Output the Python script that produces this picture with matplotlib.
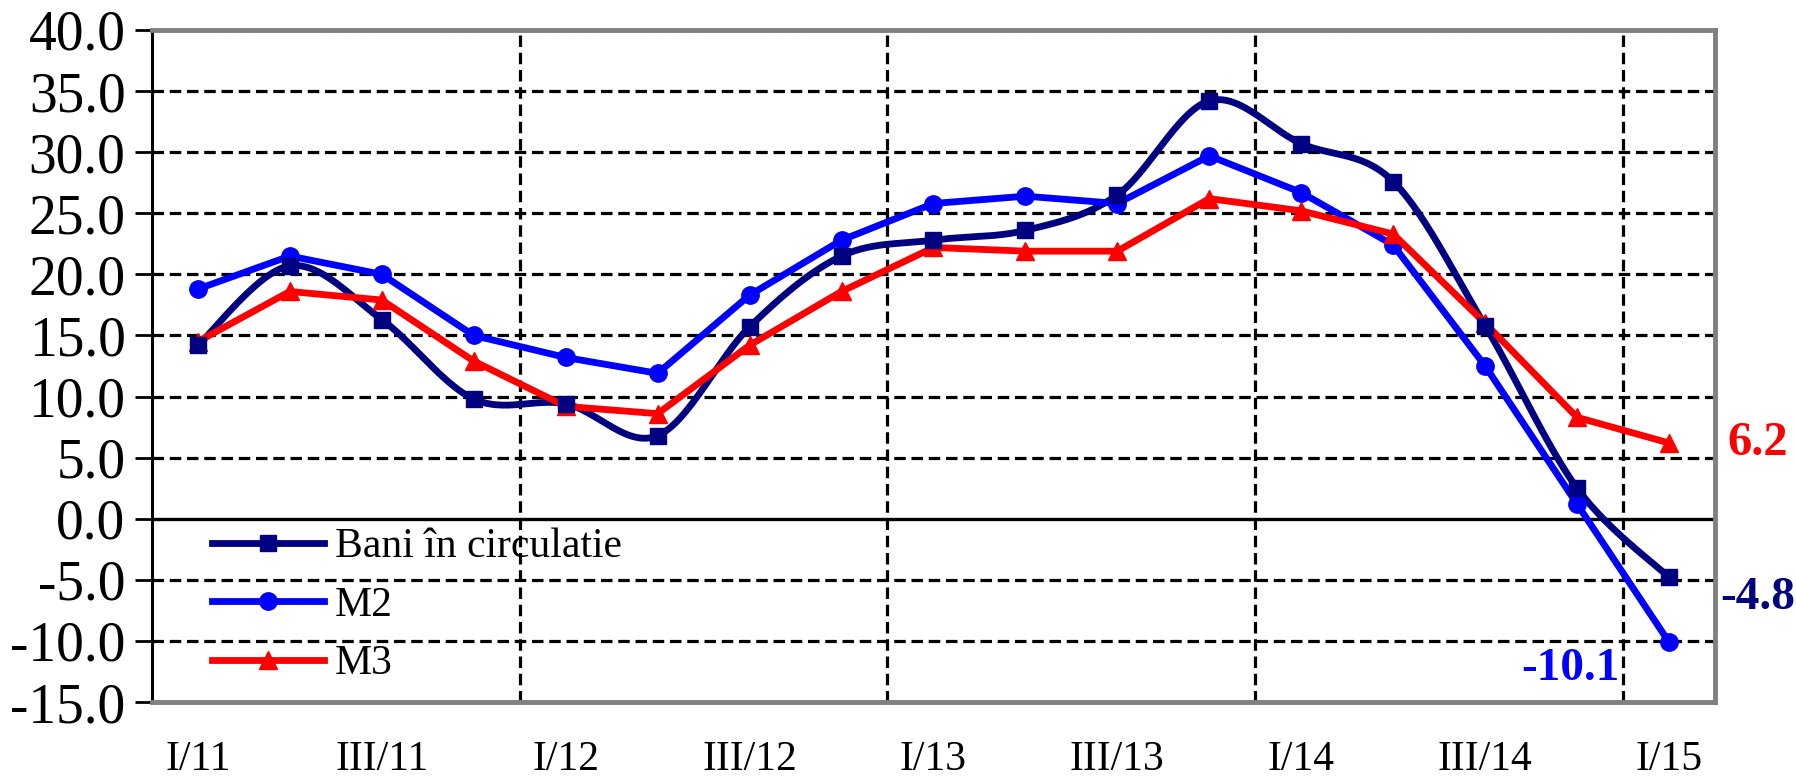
"""Dinamica agregatelor monetare: Bani in circulatie, M2, M3 (% fata de anul precedent)"""

import matplotlib
matplotlib.use("Agg")
import matplotlib.pyplot as plt
import numpy as np

plt.rcParams["font.family"] = ["Liberation Serif", "DejaVu Serif"]

# --- date ---
quarters = ["I/11", "II/11", "III/11", "IV/11", "I/12", "II/12", "III/12", "IV/12",
            "I/13", "II/13", "III/13", "IV/13", "I/14", "II/14", "III/14", "IV/14", "I/15"]
bani = [14.2, 20.7, 16.3, 9.8, 9.4, 6.8, 15.7, 21.5, 22.8, 23.6, 26.5, 34.2,
        30.7, 27.6, 15.8, 2.5, -4.8]
m2 = [18.8, 21.5, 20.0, 15.0, 13.2, 11.9, 18.3, 22.8, 25.8, 26.4, 25.8, 29.7,
      26.7, 22.4, 12.5, 1.2, -10.1]
m3 = [14.5, 18.6, 17.9, 12.9, 9.2, 8.6, 14.2, 18.6, 22.2, 21.9, 21.9, 26.2,
      25.2, 23.3, 16.0, 8.3, 6.2]

NAVY = "#000080"
BLUE = "#0000FF"
RED = "#FF0000"
LW = 4.9


def smooth(x, y, n=30):
    """curba neteda tip Excel (Bezier cu tangente Catmull-Rom)"""
    x = np.asarray(x, float)
    y = np.asarray(y, float)
    px = np.concatenate([[x[0]], x, [x[-1]]])
    py = np.concatenate([[y[0]], y, [y[-1]]])
    xs, ys = [], []
    t = np.linspace(0, 1, n)
    for i in range(len(x) - 1):
        p0 = np.array([px[i + 1], py[i + 1]])
        p3 = np.array([px[i + 2], py[i + 2]])
        c1 = p0 + (np.array([px[i + 2], py[i + 2]]) - np.array([px[i], py[i]])) / 6
        c2 = p3 - (np.array([px[i + 3], py[i + 3]]) - np.array([px[i + 1], py[i + 1]])) / 6
        b = ((1 - t) ** 3)[:, None] * p0 + (3 * (1 - t) ** 2 * t)[:, None] * c1 \
            + (3 * (1 - t) * t ** 2)[:, None] * c2 + (t ** 3)[:, None] * p3
        xs.extend(b[:, 0])
        ys.extend(b[:, 1])
    return np.array(xs), np.array(ys)


fig = plt.figure(figsize=(17.96, 7.79), dpi=100)
ax = fig.add_axes([0.0846, 0.0988, 0.8703, 0.8627])

idx = np.arange(len(quarters))

# grila
for yv in np.arange(-10, 41, 5):
    if yv == 0:
        ax.axhline(0, color="black", lw=2.4, zorder=1)
    else:
        ax.axhline(yv, color="black", lw=2.3, ls=(0, (3.6, 1.8)), zorder=1)
for xv in [3.5, 7.5, 11.5, 15.5]:
    ax.axvline(xv, color="black", lw=2.3, ls=(0, (3.6, 1.8)), zorder=1)

sx, sy = smooth(idx, bani)
ax.plot(sx, sy, color=NAVY, lw=LW, zorder=3, solid_capstyle="round")
ax.plot(idx, bani, ls="none", marker="s", ms=12, color=NAVY, zorder=4)
ax.plot([], [], color=NAVY, lw=LW, marker="s", ms=12, label="Bani în circulatie")

ax.plot(idx, m2, color=BLUE, lw=LW, marker="o", ms=12.5, zorder=3,
        solid_joinstyle="round", label="M2")
ax.plot(idx, m3, color=RED, lw=LW, marker="^", ms=13.5, zorder=3,
        solid_joinstyle="round", label="M3")

ax.set_xlim(-0.5, len(quarters) - 0.5)
ax.set_ylim(-15, 40)
ax.set_yticks(np.arange(-15, 41, 5))
ax.set_yticklabels([f"{v:.1f}" for v in np.arange(-15, 41, 5)], fontsize=40)
ax.set_xticks(idx[::2])
ax.set_xticklabels(quarters[::2], fontsize=30)
ax.tick_params(axis="y", direction="out", length=12, width=2, pad=7)
ax.tick_params(axis="x", length=0, pad=28)

for side in ["top", "right", "bottom"]:
    ax.spines[side].set_color("#808080")
    ax.spines[side].set_linewidth(3.5)
ax.spines["left"].set_color("black")
ax.spines["left"].set_linewidth(2.2)

leg = ax.legend(loc="upper left", bbox_to_anchor=(0.025, 0.29), frameon=False,
                fontsize=30, handlelength=2.7, handletextpad=0.25, labelspacing=0.48,
                borderpad=0, numpoints=1)

# etichete ultimele valori
ax.annotate(f"{m3[-1]:.1f}", xy=(idx[-1], m3[-1]), xytext=(64, 0), textcoords="offset points",
            ha="center", va="center", fontsize=35, fontweight="bold", color=RED,
            annotation_clip=False)
ax.annotate(f"{bani[-1]:.1f}", xy=(idx[-1], bani[-1]), xytext=(64, -15), textcoords="offset points",
            ha="center", va="center", fontsize=34, fontweight="bold", color=NAVY,
            annotation_clip=False)
ax.annotate(f"{m2[-1]:.1f}", xy=(idx[-1], m2[-1]), xytext=(-71, -19), textcoords="offset points",
            ha="center", va="center", fontsize=34, fontweight="bold", color=BLUE,
            annotation_clip=False)

fig.savefig("out.png", dpi=100)
